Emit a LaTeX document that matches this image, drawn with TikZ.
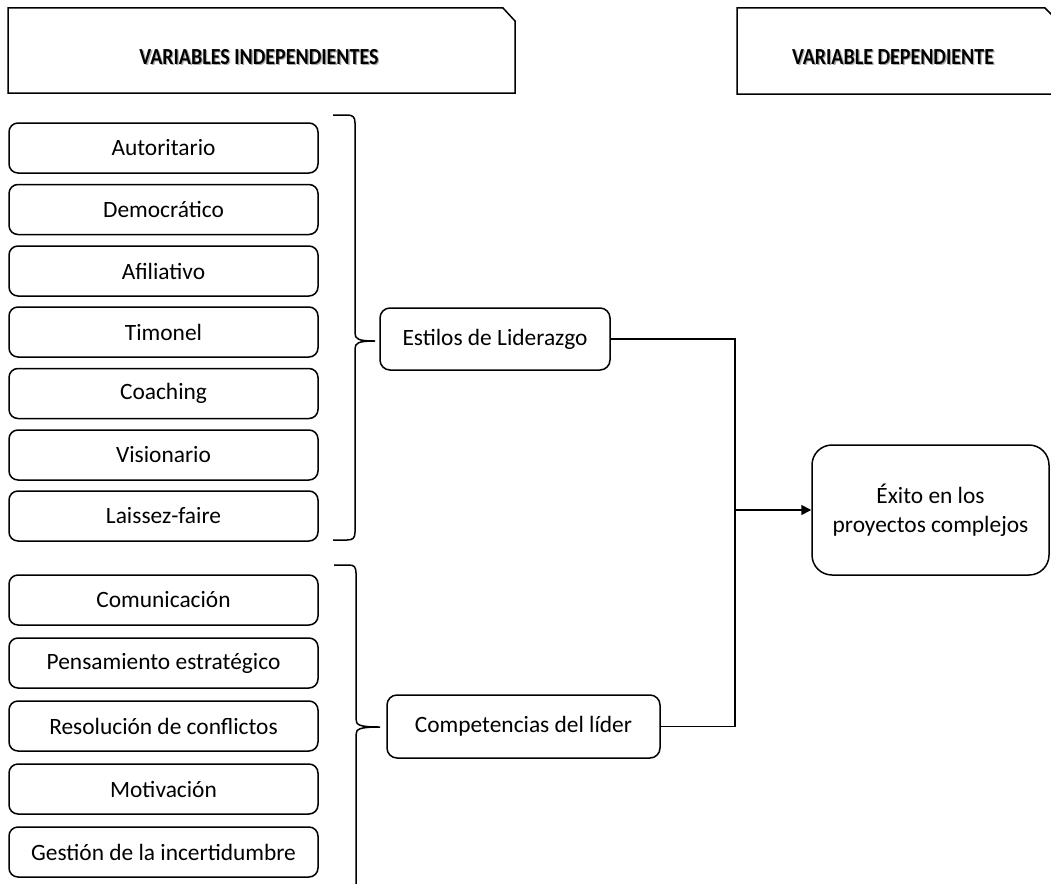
\documentclass[tikz,border=0pt]{standalone}
\usepackage{fontspec}
\setmainfont{Carlito}
\usetikzlibrary{arrows.meta}
\tikzset{
  item/.style={draw, line width=1.5pt, rounded corners=9pt, minimum width=309pt, minimum height=50pt, inner sep=0pt, font=\fontsize{23.4}{27}\selectfont},
  mid/.style={draw, line width=1.5pt, rounded corners=10pt, minimum height=62pt, inner sep=0pt, font=\fontsize{23.4}{27}\selectfont},
  hdr/.style={font=\fontsize{20}{24}\selectfont\bfseries},
  hdrsh/.style={font=\fontsize{20}{24}\selectfont\bfseries, text=black!55, opacity=0.6},
  frame/.style={line width=1.5pt},
  brace/.style={line width=1.5pt},
  conn/.style={line width=1.5pt}
}
\begin{document}
\begin{tikzpicture}[x=1pt,y=-1pt]
\useasboundingbox (0,0) rectangle (1051,883);
% header boxes
\draw[frame] (8,8) -- (503,8) -- (515,21) -- (515,93) -- (8,93) -- cycle;
\draw[frame] (737,8) -- (1045,8) -- (1058,21) -- (1058,94) -- (737,94) -- cycle;
\node[hdrsh] at (260.3,58.3) {\scalebox{1}[1.15]{VARIABLES INDEPENDIENTES}};
\node[hdr] (h1) at (259,57) {\scalebox{1}[1.15]{VARIABLES INDEPENDIENTES}};
\node[hdrsh] at (894.3,58.3) {\scalebox{1}[1.15]{VARIABLE DEPENDIENTE}};
\node[hdr] (h2) at (893,57) {\scalebox{1}[1.15]{VARIABLE DEPENDIENTE}};
% first group
\node[item] (a1) at (163.5,148) {Autoritario};
\node[item] (a2) at (163.5,209.5) {Democrático};
\node[item] (a3) at (163.5,271) {Afiliativo};
\node[item] (a4) at (163.5,332) {Timonel};
\node[item] (a5) at (163.5,393.5) {Coaching};
\node[item] (a6) at (163.5,455) {Visionario};
\node[item] (a7) at (163.5,516) {Laissez-faire};
% second group
\node[item] (b1) at (163.5,600) {Comunicación};
\node[item] (b2) at (163.5,663) {Pensamiento estratégico};
\node[item] (b3) at (163.5,726) {Resolución de conflictos};
\node[item] (b4) at (163.5,789) {Motivación};
\node[item] (b5) at (163.5,852) {Gestión de la incertidumbre};
% braces
\draw[brace] (333,115) -- (347,115) .. controls (353,115) and (355,117) .. (355,123) -- (355,333)
  .. controls (355,339) and (358,341) .. (375,341)
  .. controls (358,341) and (355,343) .. (355,349) -- (355,532)
  .. controls (355,538) and (353,540) .. (347,540) -- (333,540);
\draw[brace] (334,565) -- (349,565) .. controls (354,565) and (356,567) .. (356,573) -- (356,719)
  .. controls (356,725) and (359,727) .. (380,727)
  .. controls (359,727) and (356,729) .. (356,735) -- (356,900);
% middle boxes
\node[mid, minimum width=230pt] (est) at (495,339) {Estilos de Liderazgo};
\node[mid, minimum width=273pt, minimum height=63pt] (comp) at (523.5,726.5) {Competencias del líder};
% dependent
\node[draw, line width=1.5pt, rounded corners=20pt, minimum width=237pt, minimum height=130pt, inner sep=0pt, align=center, font=\fontsize{23.4}{28.5}\selectfont] (ex) at (930.5,510) {Éxito en los\\proyectos complejos};
% connectors
\coordinate (j) at (735,510);
\draw[conn] (est.east) -| (j);
\draw[conn] (comp.east) -| (j);
\draw[conn, -{Triangle[length=10pt,width=10pt]}] (j) -- (ex.west);
\end{tikzpicture}
\end{document}
